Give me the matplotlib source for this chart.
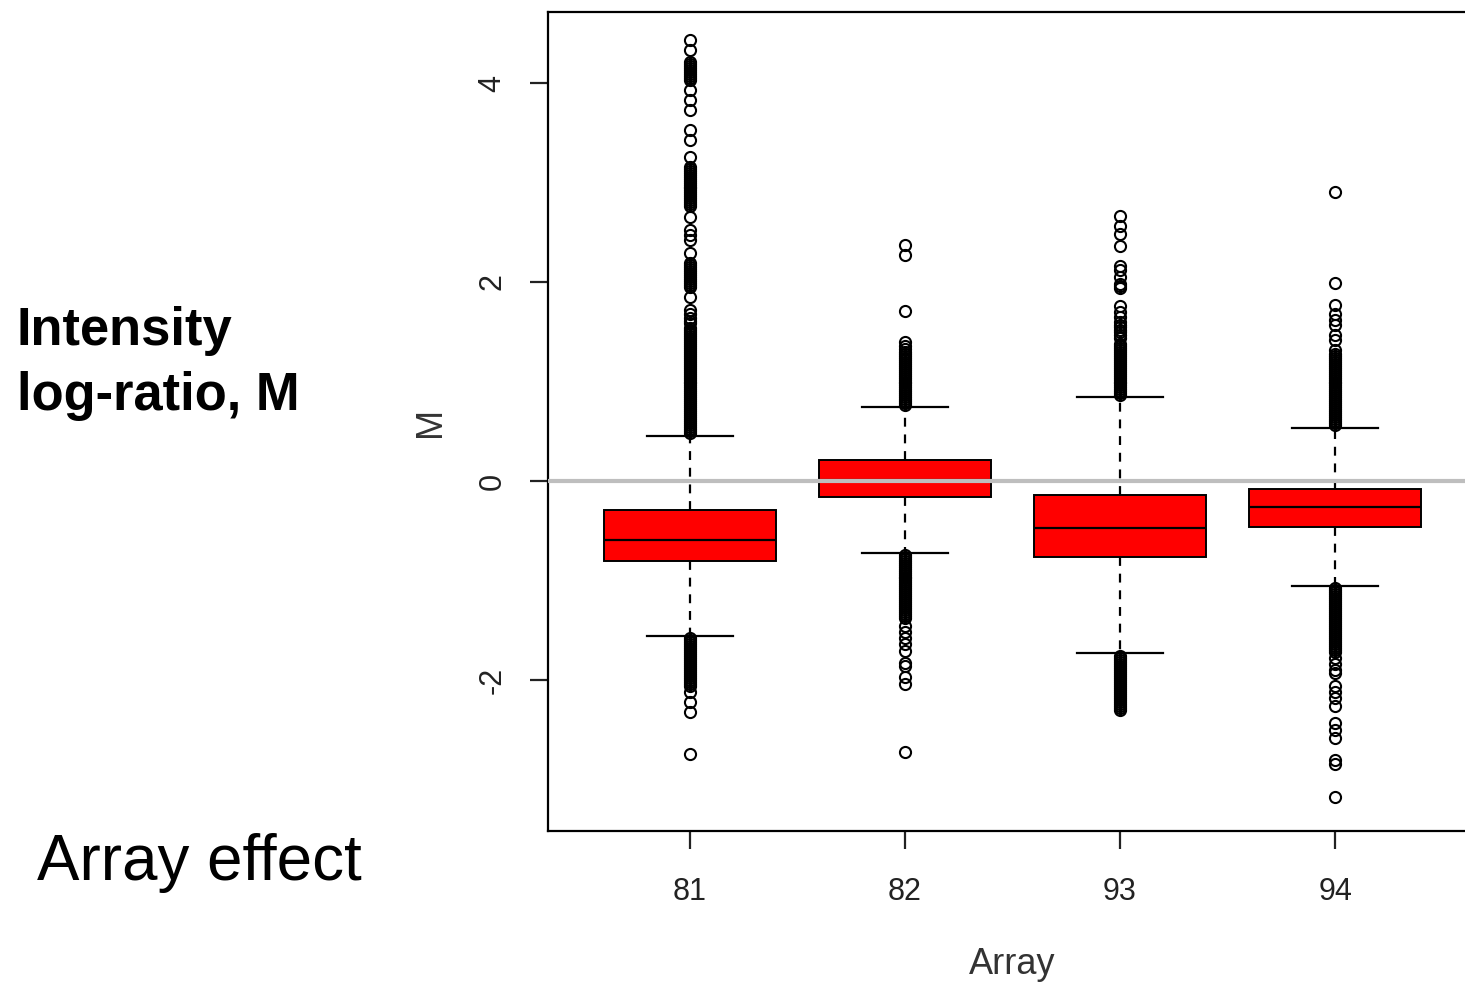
import matplotlib
matplotlib.use("Agg")
import matplotlib.pyplot as plt

plt.rcParams['font.family'] = ['Liberation Sans', 'DejaVu Sans']

arrays = ['81', '82', '93', '94']
q1 = [-0.80, -0.16, -0.76, -0.46]
med = [-0.59, 0.01, -0.47, -0.26]
q3 = [-0.29, 0.21, -0.14, -0.08]
whislo = [-1.56, -0.72, -1.73, -1.06]
whishi = [0.45, 0.74, 0.84, 0.53]

# outliers (dense runs typed point by point)
out81 = [4.43, 4.33,
         4.21, 4.19, 4.17, 4.15, 4.13, 4.11, 4.09, 4.07, 4.05, 4.03,
         3.93, 3.83, 3.73, 3.53, 3.43, 3.26,
         3.16, 3.14, 3.12, 3.10, 3.08, 3.06, 3.04, 3.02, 3.00, 2.98, 2.96, 2.94,
         2.92, 2.90, 2.88, 2.86, 2.84, 2.82, 2.80, 2.78, 2.76,
         2.65, 2.52, 2.47, 2.42, 2.29,
         2.19, 2.17, 2.15, 2.13, 2.11, 2.09, 2.07, 2.05, 2.03, 2.01, 1.99, 1.97, 1.95,
         1.85, 1.72, 1.68, 1.64, 1.61, 1.59,
         1.54, 1.52, 1.50, 1.48, 1.46, 1.44, 1.42, 1.40, 1.38, 1.36, 1.34, 1.32,
         1.30, 1.28, 1.26, 1.24, 1.22, 1.20, 1.18, 1.16, 1.14, 1.12, 1.10, 1.08,
         1.06, 1.04, 1.02, 1.00, 0.98, 0.96, 0.94, 0.92, 0.90, 0.88, 0.86, 0.84,
         0.82, 0.80, 0.78, 0.76, 0.74, 0.72, 0.70, 0.68, 0.66, 0.64, 0.62, 0.60,
         0.58, 0.56, 0.54, 0.52, 0.50, 0.48,
         -1.58, -1.60, -1.62, -1.64, -1.66, -1.68, -1.70, -1.72, -1.74, -1.76,
         -1.78, -1.80, -1.82, -1.84, -1.86, -1.88, -1.90, -1.92, -1.94, -1.96,
         -1.98, -2.00, -2.02, -2.04, -2.06, -2.12, -2.22, -2.32, -2.74]
out82 = [2.37, 2.27, 1.71, 1.40, 1.36, 1.33,
         1.30, 1.28, 1.26, 1.24, 1.22, 1.20, 1.18, 1.16, 1.14, 1.12, 1.10, 1.08,
         1.06, 1.04, 1.02, 1.00, 0.98, 0.96, 0.94, 0.92, 0.90, 0.88, 0.86, 0.84,
         0.82, 0.80, 0.78, 0.76,
         -0.74, -0.76, -0.78, -0.80, -0.82, -0.84, -0.86, -0.88, -0.90, -0.92,
         -0.94, -0.96, -0.98, -1.00, -1.02, -1.04, -1.06, -1.08, -1.10, -1.12,
         -1.14, -1.16, -1.18, -1.20, -1.22, -1.24, -1.26, -1.28, -1.30, -1.32,
         -1.34, -1.36, -1.38, -1.46, -1.52, -1.58, -1.64, -1.71, -1.83, -1.86,
         -1.97, -2.04, -2.72]
out93 = [2.66, 2.56, 2.48, 2.36, 2.16, 2.12, 2.05, 1.98, 1.96, 1.94, 1.76, 1.70,
         1.65, 1.60, 1.57, 1.55, 1.52, 1.50, 1.47, 1.44,
         1.38, 1.36, 1.34, 1.32, 1.30, 1.28, 1.26, 1.24, 1.22, 1.20, 1.18, 1.16,
         1.14, 1.12, 1.10, 1.08, 1.06, 1.04, 1.02, 1.00, 0.98, 0.96, 0.94, 0.92,
         0.90, 0.88, 0.86,
         -1.76, -1.78, -1.80, -1.82, -1.84, -1.86, -1.88, -1.90, -1.92, -1.94,
         -1.96, -1.98, -2.00, -2.02, -2.04, -2.06, -2.08, -2.10, -2.12, -2.14,
         -2.16, -2.18, -2.20, -2.22, -2.24, -2.26, -2.28, -2.30]
out94 = [2.90, 1.99, 1.77, 1.68, 1.62, 1.57, 1.47, 1.42, 1.32,
         1.28, 1.26, 1.24, 1.22, 1.20, 1.18, 1.16, 1.14, 1.12, 1.10, 1.08, 1.06,
         1.04, 1.02, 1.00, 0.98, 0.96, 0.94, 0.92, 0.90, 0.88, 0.86, 0.84, 0.82,
         0.80, 0.78, 0.76, 0.74, 0.72, 0.70, 0.68, 0.66, 0.64, 0.62, 0.60, 0.58,
         0.56,
         -1.08, -1.10, -1.12, -1.14, -1.16, -1.18, -1.20, -1.22, -1.24, -1.26,
         -1.28, -1.30, -1.32, -1.34, -1.36, -1.38, -1.40, -1.42, -1.44, -1.46,
         -1.48, -1.50, -1.52, -1.54, -1.56, -1.58, -1.60, -1.62, -1.64, -1.66,
         -1.68, -1.70, -1.72, -1.78, -1.84, -1.90, -1.93, -2.06, -2.12, -2.18,
         -2.26, -2.43, -2.50, -2.58, -2.80, -2.84, -3.18]
outliers = [out81, out82, out93, out94]

stats = []
for i in range(4):
    stats.append(dict(med=med[i], q1=q1[i], q3=q3[i], whislo=whislo[i],
                      whishi=whishi[i], fliers=outliers[i], label=arrays[i]))

fig = plt.figure(figsize=(14.65, 9.84), dpi=100)
ax = fig.add_axes([548/1465, 1-831/984, 929/1465, 819/984])

ax.bxp(stats, positions=[1, 2, 3, 4], widths=0.8, capwidths=0.4, patch_artist=True,
       boxprops=dict(facecolor='#ff0000', edgecolor='black', lw=1.4),
       medianprops=dict(color='black', lw=1.6),
       whiskerprops=dict(color='black', lw=1.6, ls=(0, (4, 3.5))),
       capprops=dict(color='black', lw=1.6),
       flierprops=dict(marker='o', mfc='none', mec='black', ms=8, mew=1.5))
ax.axhline(0, color='#bebebe', lw=3, zorder=5)

ax.set_xlim(0.34, 4.66)
ax.set_ylim(-3.518, 4.714)
ax.set_yticks([-2, 0, 2, 4])
ax.set_yticklabels(['-2', '0', '2', '4'])
ax.set_xticks([1, 2, 3, 4])
ax.set_xticklabels(arrays)
for s in ax.spines.values():
    s.set_linewidth(1.6)

ax.tick_params(axis='both', length=13, width=1.6, labelsize=22, colors='#222222')
ax.tick_params(axis='y', labelrotation=90, pad=16)
ax.tick_params(axis='x', pad=20)
for lab in ax.get_yticklabels():
    lab.set_va('center')

ax.set_xlabel('Array', fontsize=26, color='#333333')
ax.set_ylabel('M', fontsize=26, color='#333333')
ax.xaxis.set_label_coords(0.5, -0.142)
ax.yaxis.set_label_coords(-0.108, 0.5)

fig.text(17/1465, 1-345/984, 'Intensity', fontsize=37.8, fontweight='bold', va='baseline')
fig.text(17/1465, 1-410/984, 'log-ratio, M', fontsize=37.8, fontweight='bold', va='baseline')
fig.text(37/1465, 1-880/984, 'Array effect', fontsize=45.8, va='baseline')

fig.savefig('out.png', dpi=100)
